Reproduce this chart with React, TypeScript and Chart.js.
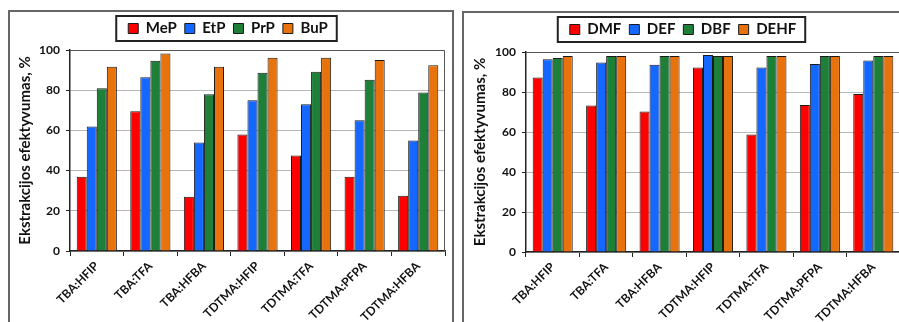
import React, { useEffect, useRef } from "react";
import { Chart, registerables } from "chart.js";
Chart.register(...registerables);

const categories = ["TBA:HFIP", "TBA:TFA", "TBA:HFBA", "TDTMA:HFIP", "TDTMA:TFA", "TDTMA:PFPA", "TDTMA:HFBA"];

const leftNames = ["MeP", "EtP", "PrP", "BuP"];
const MeP = [37, 69.5, 27, 58, 47.5, 37, 27.5];
const EtP = [62, 86.5, 54, 75, 73, 65, 55];
const PrP = [81, 94.7, 78, 88.7, 89.2, 85.2, 78.8];
const BuP = [91.7, 98.2, 91.7, 96.2, 96.2, 95, 92.4];

const rightNames = ["DMF", "DEF", "DBF", "DEHF"];
const DMF = [87.3, 73.2, 70.3, 92.2, 58.8, 73.5, 79];
const DEF = [96.4, 94.7, 93.6, 98.5, 92.2, 94, 95.8];
const DBF = [97, 98, 98, 98, 98, 98, 98];
const DEHF = [98, 98, 98, 98, 98, 98, 98];

const yMin = 0;
const yMax = 100;
const yStep = 20;
const yTitle = "Ekstrakcijos efektyvumas, %";

const colors = ["#FF0000", "#1468FF", "#1E7F38", "#E8730C"];
const FONT = "Lato, 'Liberation Sans', Arial, sans-serif";

type Props = {
  names: string[];
  series: number[][];
  left: number;
  top: number;
  width: number;
  height: number;
  areaTop: number;
  areaLeft: number;
  areaBottom: number;
  rightPad: number;
};

function BarPanel(p: Props) {
  const ref = useRef<HTMLCanvasElement>(null);
  useEffect(() => {
    const legendFix = {
      id: "legendFix",
      beforeInit(chart: any) {
        const orig = chart.legend.fit;
        chart.legend.fit = function () {
          orig.bind(chart.legend)();
          this.height = p.areaTop;
        };
      },
    };
    const frame = {
      id: "frame",
      afterDraw(chart: any) {
        const ctx = chart.ctx;
        const a = chart.chartArea;
        ctx.save();
        ctx.strokeStyle = "#555";
        ctx.lineWidth = 1;
        ctx.beginPath();
        ctx.moveTo(a.left, a.top + 0.5);
        ctx.lineTo(a.right - 0.5, a.top + 0.5);
        ctx.lineTo(a.right - 0.5, a.bottom);
        ctx.stroke();
        const hb = chart.legend.legendHitBoxes;
        if (hb && hb.length) {
          const minL = Math.min(...hb.map((h: any) => h.left));
          const maxR = Math.max(...hb.map((h: any) => h.left + h.width));
          const t = hb[0].top;
          const h = hb[0].height;
          ctx.strokeStyle = "#222";
          ctx.lineWidth = 2;
          ctx.strokeRect(minL - 12, t - 5, maxR - minL + 21, h + 10);
        }
        ctx.restore();
      },
    };
    const chart = new Chart(ref.current!, {
      type: "bar",
      data: {
        labels: categories,
        datasets: p.names.map((n, i) => ({
          label: n,
          data: p.series[i],
          backgroundColor: colors[i],
          borderColor: "#1a1a1a",
          borderWidth: 1,
          categoryPercentage: 0.75,
          barPercentage: 1.0,
        })),
      },
      options: {
        responsive: false,
        animation: false,
        layout: { padding: { left: 0, right: p.rightPad, top: 0, bottom: 0 } },
        plugins: {
          tooltip: { enabled: false },
          legend: {
            position: "top",
            labels: {
              boxWidth: 10,
              boxHeight: 10,
              padding: 8,
              color: "#111",
              font: { family: FONT, size: 15, weight: "bold" },
            },
          },
        },
        scales: {
          x: {
            offset: true,
            afterFit: (s: any) => {
              s.height = p.height - p.areaBottom;
            },
            grid: {
              offset: true,
              drawOnChartArea: false,
              drawTicks: true,
              tickLength: 5,
              tickColor: "#222",
            },
            border: { color: "#222", width: 1.5 },
            ticks: {
              minRotation: 45,
              maxRotation: 45,
              autoSkip: false,
              padding: 3,
              color: "#111",
              font: { family: FONT, size: 12, weight: "bold" },
            },
          },
          y: {
            min: yMin,
            max: yMax,
            afterFit: (s: any) => {
              s.width = p.areaLeft;
            },
            grid: {
              color: "#b8b8b8",
              lineWidth: 1,
              tickLength: 4,
              tickColor: "#222",
            },
            border: { color: "#222", width: 1.5 },
            ticks: {
              stepSize: yStep,
              padding: 6,
              color: "#111",
              font: { family: FONT, size: 12, weight: "bold" },
            },
            title: {
              display: true,
              text: yTitle,
              color: "#111",
              padding: { top: 5, bottom: 0 },
              font: { family: FONT, size: 15, weight: "bold" },
            },
          },
        },
      },
      plugins: [legendFix, frame],
    } as any);
    return () => chart.destroy();
  }, []);
  return (
    <canvas
      ref={ref}
      width={p.width}
      height={p.height}
      style={{ position: "absolute", left: p.left, top: p.top, width: p.width, height: p.height }}
    />
  );
}

export default function App() {
  return (
    <div
      style={{
        position: "fixed",
        left: 0,
        top: 0,
        width: 899,
        height: 322,
        overflow: "hidden",
        background: "#fff",
      }}
    >
      <div style={{ position: "absolute", left: 8, top: 10, width: 442, height: 400, border: "2px solid #666" }} />
      <div style={{ position: "absolute", left: 462, top: 11, width: 500, height: 400, border: "2px solid #666" }} />
      <BarPanel
        names={leftNames}
        series={[MeP, EtP, PrP, BuP]}
        left={11}
        top={13}
        width={438}
        height={330}
        areaTop={37}
        areaLeft={59}
        areaBottom={238}
        rightPad={4}
      />
      <BarPanel
        names={rightNames}
        series={[DMF, DEF, DBF, DEHF]}
        left={466}
        top={14}
        width={440}
        height={330}
        areaTop={38}
        areaLeft={60}
        areaBottom={238}
        rightPad={6}
      />
    </div>
  );
}
